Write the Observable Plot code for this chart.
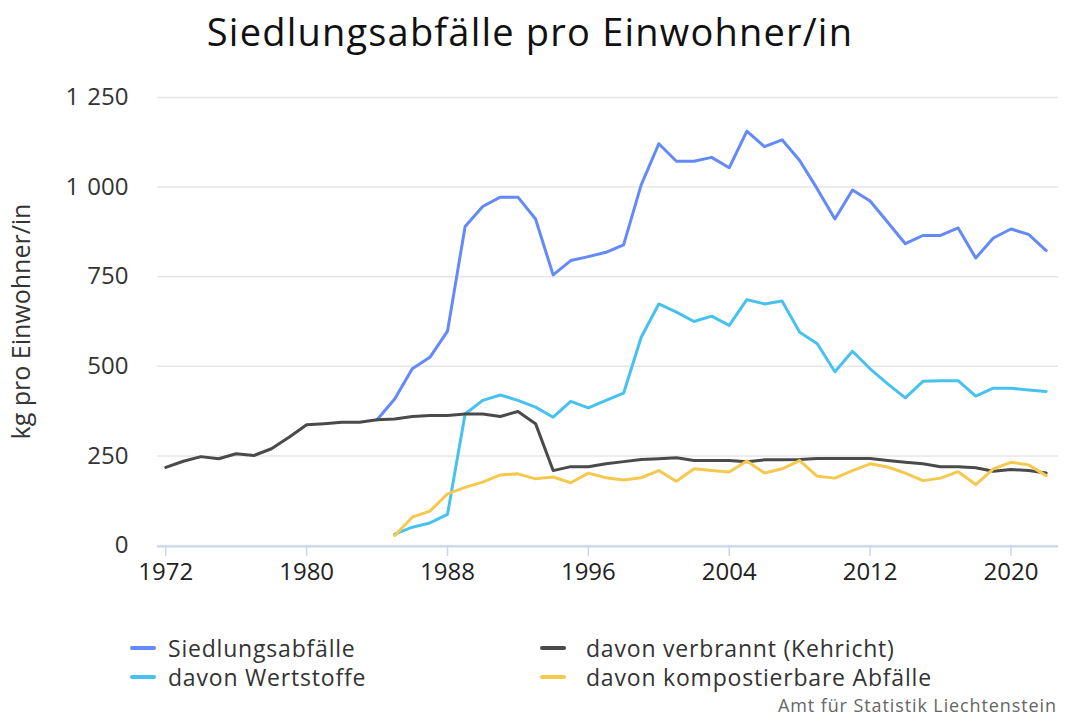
<!DOCTYPE html>
<html><head><meta charset="utf-8">
<script src="https://cdn.jsdelivr.net/npm/d3@7"></script>
<script src="https://cdn.jsdelivr.net/npm/@observablehq/plot@0.6"></script>
<style>
body{margin:0;background:#fff;font-family:"Open Sans",Lato,sans-serif;}
#wrap{position:relative;width:1067px;height:720px;overflow:hidden;}
#title{position:absolute;left:0;top:5px;width:1060px;text-align:center;font-size:38px;letter-spacing:1.2px;color:#111;}
#chart{position:absolute;left:0;top:70px;}
.leg{position:absolute;font-size:23px;letter-spacing:0.8px;color:#333;display:flex;align-items:center;white-space:nowrap;}
.leg span.sw{display:inline-block;width:26px;height:4px;border-radius:2px;margin-right:12px;}
#caption{position:absolute;right:10px;top:693px;font-size:18px;line-height:24px;letter-spacing:0.9px;color:#666;}
</style></head>
<body><div id="wrap">
<div id="title">Siedlungsabfälle pro Einwohner/in</div>
<div id="chart"></div>
<div id="legend"></div>
<div id="caption">Amt für Statistik Liechtenstein</div>
</div>
<script>
const seriesNames = ["Siedlungsabfälle","davon Wertstoffe","davon verbrannt (Kehricht)","davon kompostierbare Abfälle"];
const seriesColors = ["#6489f8","#47c2ef","#4a4a4a","#f5c94f"];
const xTicks = [1972,1980,1988,1996,2004,2012,2020];
const yTicks = [0,250,500,750,1000,1250];

const yearsAll = d3.range(1972, 2023);
const yearsFrom1984 = d3.range(1984, 2023);
const yearsFrom1985 = d3.range(1985, 2023);

const verbrannt = [218,235,248,242,256,251,270,302,337,340,344,344,351,353,360,363,363,367,367,360,374,340,209,220,220,228,234,240,242,245,237,237,237,234,239,239,240,243,243,243,243,237,232,228,220,220,217,207,212,209,202];
const siedlung = [351,409,493,525,598,890,946,972,972,911,755,795,806,818,839,1006,1121,1072,1072,1083,1054,1156,1113,1132,1074,995,911,992,961,902,842,865,865,886,802,858,883,868,823];
const wertstoffe = [32,51,63,87,367,405,420,405,386,358,402,384,405,425,581,674,651,625,640,614,686,674,682,595,563,485,542,493,451,412,458,460,460,417,439,439,434,430];
const kompost = [28,79,96,144,162,177,197,200,186,191,175,202,189,183,189,209,179,214,209,205,236,202,214,237,193,188,209,228,219,202,181,188,206,170,214,232,225,195];

const data = [
  ...yearsFrom1984.map((y,i)=>({year:y,value:siedlung[i],series:seriesNames[0]})),
  ...yearsFrom1985.map((y,i)=>({year:y,value:wertstoffe[i],series:seriesNames[1]})),
  ...yearsAll.map((y,i)=>({year:y,value:verbrannt[i],series:seriesNames[2]})),
  ...yearsFrom1985.map((y,i)=>({year:y,value:kompost[i],series:seriesNames[3]}))
];

const fmt = v => d3.format(",")(v).replace(/,/g,"\u2004");

const chart = Plot.plot({
  width:1067, height:560,
  marginLeft:157, marginRight:9, marginTop:27, marginBottom:85,
  style:{fontFamily:"'Open Sans', Lato, sans-serif", fontSize:"24px", color:"#333", background:"#fff"},
  x:{domain:[1971.53,2022.7], ticks:xTicks},
  y:{domain:[0,1250], ticks:yTicks},
  color:{domain:seriesNames, range:seriesColors},
  marks:[
    Plot.gridY(yTicks,{stroke:"#e6e6e6", strokeOpacity:1, strokeWidth:1.5}),
    Plot.axisY(yTicks,{tickSize:0, tickPadding:29, tickFormat:fmt, label:null, fontSize:24, fill:"#333"}),
    Plot.axisY({tickSize:0, ticks:[], label:"kg pro Einwohner/in", labelAnchor:"center", labelArrow:"none", labelOffset:145, fontSize:25, fill:"#333"}),
    Plot.ruleY([0],{stroke:"#ccd6eb", strokeWidth:2, dy:1}),
    Plot.axisX(xTicks,{tickSize:11, tickPadding:6, stroke:"#ccd6eb", tickFormat:d=>String(d), label:null, fontSize:24, fill:"#222", strokeWidth:1.5}),
    Plot.line(data,{x:"year", y:"value", z:"series", stroke:"series", strokeWidth:3, strokeLinejoin:"round", strokeLinecap:"round"})
  ]
});
document.getElementById("chart").appendChild(chart);

const legPos = [[130,632],[130,661],[540,632],[540,661]];
const legend = document.getElementById("legend");
seriesNames.forEach((n,i)=>{
  const d = document.createElement("div");
  d.className="leg";
  d.style.left = legPos[i][0]+"px";
  d.style.top = legPos[i][1]+"px";
  d.innerHTML = `<span class="sw" style="background:${seriesColors[i]}"></span>${n}`;
  if (i>=2) d.querySelector(".sw").style.marginRight = "20px";
  legend.appendChild(d);
});
</script>
</body></html>
